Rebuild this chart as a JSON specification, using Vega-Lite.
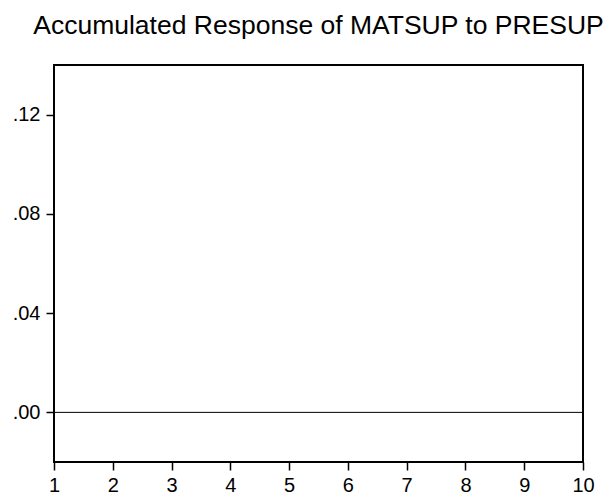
{
  "$schema": "https://vega.github.io/schema/vega-lite/v6.json",
  "width": 529,
  "height": 397,
  "autosize": {"type": "none"},
  "padding": {"left": 54, "top": 65, "right": 26, "bottom": 37},
  "background": "white",
  "title": {
    "text": "Accumulated Response of MATSUP to PRESUP",
    "font": "Liberation Sans",
    "fontSize": 26.5,
    "fontWeight": "normal",
    "color": "black",
    "anchor": "middle",
    "baseline": "bottom",
    "offset": -1
  },
  "config": {"view": {"stroke": "black", "strokeWidth": 2}},
  "data": {"values": [{"step": 1, "response": 0}, {"step": 10, "response": 0}]},
  "mark": {"type": "line", "color": "black", "strokeWidth": 1},
  "encoding": {
    "x": {
      "field": "step",
      "type": "quantitative",
      "scale": {"domain": [1, 10], "nice": false, "zero": false},
      "axis": {
        "title": null,
        "values": [1, 2, 3, 4, 5, 6, 7, 8, 9, 10],
        "format": "d",
        "domain": false,
        "grid": false,
        "tickSize": 8,
        "tickWidth": 1.5,
        "tickColor": "black",
        "labelFont": "Liberation Sans",
        "labelFontSize": 20,
        "labelColor": "black",
        "labelPadding": 5,
        "labelOverlap": false,
        "labelFlush": false
      }
    },
    "y": {
      "field": "response",
      "type": "quantitative",
      "scale": {"domain": [-0.02, 0.14], "nice": false, "zero": false},
      "axis": {
        "title": null,
        "values": [0, 0.04, 0.08, 0.12],
        "labelExpr": "replace(format(datum.value, '.2f'), '0.', '.')",
        "domain": false,
        "grid": false,
        "tickSize": 8,
        "tickWidth": 1.5,
        "tickColor": "black",
        "labelFont": "Liberation Sans",
        "labelFontSize": 20,
        "labelColor": "black",
        "labelPadding": 6,
        "labelOverlap": false,
        "labelFlush": false
      }
    }
  }
}
